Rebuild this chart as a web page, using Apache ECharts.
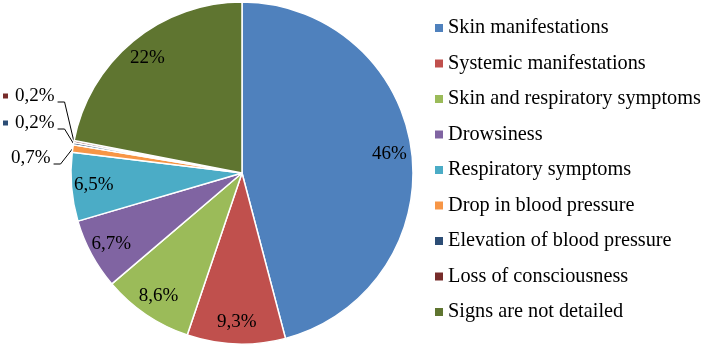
<!DOCTYPE html>
<html><head><meta charset="utf-8">
<script src="https://cdn.jsdelivr.net/npm/echarts@6/dist/echarts.min.js"></script>
<style>html,body{margin:0;padding:0;background:#fff}#c{width:702px;height:348px}</style>
</head><body><div id="c"></div>
<script>
const categories = ['Skin manifestations','Systemic manifestations','Skin and respiratory symptoms','Drowsiness','Respiratory symptoms','Drop in blood pressure','Elevation of blood pressure','Loss of consciousness','Signs are not detailed'];
const values = [46, 9.3, 8.6, 6.7, 6.5, 0.7, 0.2, 0.2, 22];
const labelTexts = ['46%','9,3%','8,6%','6,7%','6,5%','0,7%','0,2%','0,2%','22%'];
const colors = ['#4F81BD','#C0504D','#9BBB59','#8064A2','#4BACC6','#F79646','#2C4D75','#772C2A','#5F7530'];

const CX = 242, CY = 173, R = 171;
const FONT = '"Liberation Serif","Times New Roman",serif';
// outside label anchors (left x, middle y) for the tiny slices
const outside = {5: {x: 11, y: 158, sq: false}, 6: {x: 3, y: 123, sq: true}, 7: {x: 3, y: 96, sq: true}};

const data = categories.map((name, i) => {
  const d = {name: name, value: values[i], itemStyle: {color: colors[i]}};
  if (outside[i]) {
    d.label = {show: true, position: 'outside',
      formatter: outside[i].sq ? '{sq| }{t|' + labelTexts[i] + '}' : '{t|' + labelTexts[i] + '}',
      rich: {
        sq: {width: 5, height: 5, backgroundColor: colors[i], padding: 0},
        t: {fontFamily: FONT, fontSize: 19, color: '#000', padding: [0, 0, 0, outside[i].sq ? 7 : 0]}
      }
    };
    d.labelLine = {show: true, lineStyle: {color: '#000', width: 1}};
  }
  return d;
});

const chart = echarts.init(document.getElementById('c'), null, {renderer: 'canvas'});
chart.setOption({
  animation: false,
  backgroundColor: '#fff',
  legend: {
    orient: 'vertical', left: 435, top: 18, padding: 0,
    icon: 'rect', itemWidth: 8, itemHeight: 8, itemGap: 15.5,
    itemStyle: {borderWidth: 0},
    textStyle: {fontFamily: FONT, fontSize: 20.3, lineHeight: 20, color: '#000'},
    data: categories
  },
  series: [{
    type: 'pie',
    center: [CX, CY], radius: [0, R],
    startAngle: 90, clockwise: true,
    avoidLabelOverlap: false,
    itemStyle: {borderColor: '#fff', borderWidth: 1.5},
    label: {show: true, position: 'inside', fontFamily: FONT, fontSize: 19, color: '#000',
      formatter: p => labelTexts[p.dataIndex]},
    labelLine: {show: false},
    emphasis: {disabled: true},
    labelLayout: function (p) {
      const i = p.dataIndex;
      const r = p.labelRect;
      if (outside[i]) {
        const o = outside[i];
        const edge = p.labelLinePoints ? p.labelLinePoints[0] : [CX - R, CY];
        const endX = o.x + r.width + 3;
        const lineY = o.y + 6;
        return {x: o.x, y: o.y, align: 'left', verticalAlign: 'middle',
          labelLinePoints: [edge, [endX + 7, lineY], [endX, lineY]]};
      }
      const lx = r.x + r.width / 2, ly = r.y + r.height / 2;
      const k = 1.68;
      return {x: CX + (lx - CX) * k, y: CY + (ly - CY) * k, align: 'center', verticalAlign: 'middle'};
    },
    data: data
  }]
});
</script></body></html>
